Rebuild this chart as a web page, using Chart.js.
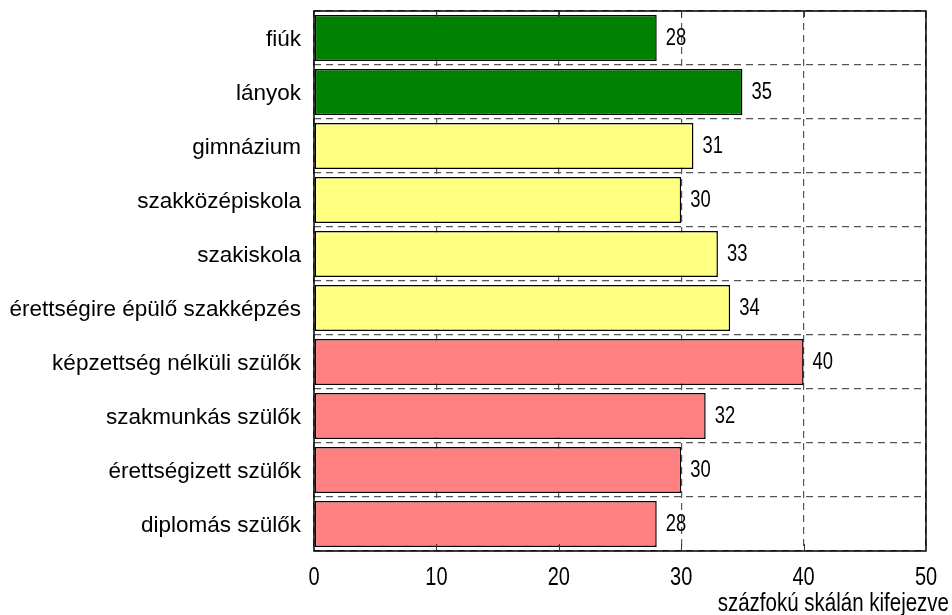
<!DOCTYPE html>
<html>
<head>
<meta charset="utf-8">
<script src="https://cdn.jsdelivr.net/npm/chart.js@4/dist/chart.umd.min.js"></script>
<style>
  html, body { margin: 0; padding: 0; background: #fff; }
  #wrap { width: 952px; height: 615px; }
</style>
</head>
<body>
<div id="wrap"><canvas id="c" width="952" height="615"></canvas></div>
<script>
// Categories (top to bottom) and their scores on a 0–100 scale
const categories = [
  'fiúk',
  'lányok',
  'gimnázium',
  'szakközépiskola',
  'szakiskola',
  'érettségire épülő szakképzés',
  'képzettség nélküli szülők',
  'szakmunkás szülők',
  'érettségizett szülők',
  'diplomás szülők'
];
const scores = [28, 35, 31, 30, 33, 34, 40, 32, 30, 28];
// Group of each bar: gender, school type, parents' education
const groups = ['nem', 'nem', 'iskola', 'iskola', 'iskola', 'iskola', 'szulo', 'szulo', 'szulo', 'szulo'];
const groupColors = { nem: '#008000', iskola: '#FFFF80', szulo: '#FF8080' };
const xTicks = [0, 10, 20, 30, 40, 50];
const axisTitle = 'százfokú skálán kifejezve';

const SANS = '"Liberation Sans", Arial, sans-serif';

// Draw text squeezed horizontally (narrow face look)
function narrowText(ctx, text, x, y, size, squeeze, align, baseline) {
  ctx.save();
  ctx.font = size + 'px ' + SANS;
  ctx.textAlign = align;
  ctx.textBaseline = baseline;
  ctx.fillStyle = '#000';
  ctx.translate(x, y);
  ctx.scale(squeeze, 1);
  ctx.fillText(text, 0, 0);
  ctx.restore();
}

// Value labels at the end of each bar
const valueLabels = {
  id: 'valueLabels',
  afterDatasetsDraw(chart) {
    const meta = chart.getDatasetMeta(0);
    meta.data.forEach((bar, i) => {
      narrowText(chart.ctx, String(scores[i]), bar.x + 9, bar.y + 1, 23, 0.8, 'left', 'middle');
    });
  }
};

// Frame, inward tick marks, x tick labels and axis title
const frame = {
  id: 'frame',
  afterDraw(chart) {
    const { ctx, chartArea: a, scales } = chart;
    ctx.save();
    ctx.strokeStyle = '#000';
    ctx.lineWidth = 1.5;
    ctx.strokeRect(a.left, a.top, a.right - a.left, a.bottom - a.top);
    ctx.lineWidth = 1;
    ctx.strokeStyle = '#333';
    xTicks.slice(1, -1).forEach(v => {
      const x = Math.round(scales.x.getPixelForValue(v)) + 0.5;
      ctx.beginPath();
      ctx.moveTo(x, a.top); ctx.lineTo(x, a.top + 6);
      ctx.moveTo(x, a.bottom); ctx.lineTo(x, a.bottom - 7);
      ctx.stroke();
    });
    ctx.restore();
    xTicks.forEach(v => {
      narrowText(ctx, String(v), scales.x.getPixelForValue(v), a.bottom + 27, 25, 0.8, 'center', 'middle');
    });
    narrowText(ctx, axisTitle, chart.width - 3, a.bottom + 53, 25, 0.82, 'right', 'middle');
  }
};

new Chart(document.getElementById('c'), {
  type: 'bar',
  data: {
    labels: categories,
    datasets: [{
      data: scores,
      backgroundColor: groups.map(g => groupColors[g]),
      borderColor: '#000',
      borderWidth: 1.5,
      borderSkipped: false,
      barPercentage: 0.85,
      categoryPercentage: 1.0
    }]
  },
  options: {
    indexAxis: 'y',
    responsive: false,
    animation: false,
    devicePixelRatio: 1,
    layout: { padding: { left: 0, right: 26, top: 11, bottom: 0 } },
    plugins: {
      legend: { display: false },
      tooltip: { enabled: false }
    },
    scales: {
      x: {
        min: 0,
        max: 50,
        afterBuildTicks(scale) { scale.ticks = xTicks.map(v => ({ value: v })); },
        afterFit(scale) {
          scale.height = 64;
          scale.paddingLeft = 0;
          scale.paddingRight = 0;
        },
        border: { display: false, dash: [7, 5] },
        grid: {
          color: '#555',
          lineWidth: 1.2,
          drawTicks: false
        },
        ticks: { display: false }
      },
      y: {
        afterFit(scale) {
          scale.width = 314;
          scale.paddingTop = 0;
          scale.paddingBottom = 0;
        },
        border: { display: false, dash: [7, 5] },
        grid: {
          offset: true,
          color: '#555',
          lineWidth: 1.2,
          drawTicks: false
        },
        ticks: {
          color: '#000',
          padding: 13,
          labelOffset: 2,
          font: { family: SANS, size: 22.5 }
        }
      }
    }
  },
  plugins: [valueLabels, frame]
});
</script>
</body>
</html>
